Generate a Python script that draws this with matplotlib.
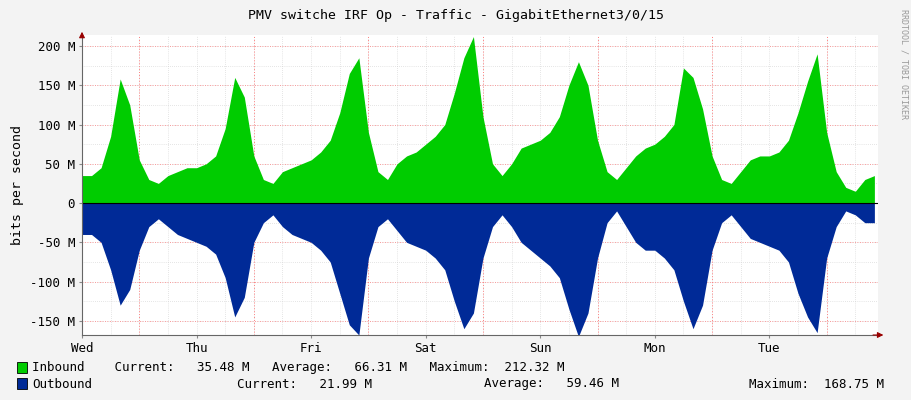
import numpy as np
import matplotlib.pyplot as plt

# 2-hourly samples (hours 0,2,...,22) per day, in M bits/s
days = ['Wed', 'Thu', 'Fri', 'Sat', 'Sun', 'Mon', 'Tue']
inbound = [
    35, 35, 45, 85, 158, 125, 55, 30, 25, 35, 40, 45,
    45, 50, 60, 95, 160, 135, 60, 30, 25, 40, 45, 50,
    55, 65, 80, 115, 165, 185, 90, 40, 30, 50, 60, 65,
    75, 85, 100, 140, 185, 212, 110, 50, 35, 50, 70, 75,
    80, 90, 110, 150, 180, 150, 80, 40, 30, 45, 60, 70,
    75, 85, 100, 172, 160, 120, 60, 30, 25, 40, 55, 60,
    60, 65, 80, 115, 155, 190, 90, 40, 20, 15, 30, 35,
]
outbound = [
    -40, -40, -50, -85, -130, -110, -60, -30, -20, -30, -40, -45,
    -50, -55, -65, -95, -145, -120, -50, -25, -15, -30, -40, -45,
    -50, -60, -75, -115, -155, -168, -70, -30, -20, -35, -50, -55,
    -60, -70, -85, -125, -160, -140, -70, -30, -15, -30, -50, -60,
    -70, -80, -95, -135, -170, -140, -70, -25, -10, -30, -50, -60,
    -60, -70, -85, -125, -160, -130, -60, -25, -15, -30, -45, -50,
    -55, -60, -75, -115, -145, -165, -70, -30, -10, -15, -25, -25,
]
t = np.arange(len(inbound)) * 2 / 24.0

plt.rcParams['font.family'] = 'DejaVu Sans Mono'
plt.rcParams['font.size'] = 8.5

fig = plt.figure(figsize=(9.11, 4.0), dpi=100, facecolor='#F3F3F3')
ax = fig.add_axes([0.090, 0.1625, 0.874, 0.75], facecolor='white')

ax.fill_between(t, inbound, 0, color='#00CC00', linewidth=0)
ax.fill_between(t, outbound, 0, color='#002A97', linewidth=0)
ax.axhline(0, color='black', linewidth=0.8)

ax.set_xlim(0, 6.95)
ax.set_ylim(-168, 214)
yt = np.arange(-150, 201, 50)
ax.set_yticks(yt)
ax.set_yticklabels(['0' if v == 0 else f'{v} M' for v in yt])
ax.set_xticks(range(7))
ax.set_xticklabels(days)
ax.tick_params(length=2, color='#888888', pad=3, labelsize=9)

for v in np.arange(-150, 214, 25):
    ax.axhline(v, color='#CCCCCC', linestyle=(0, (1, 2)), linewidth=0.5, zorder=0)
for v in yt:
    ax.axhline(v, color='#FF8080', linestyle=(0, (1, 2)), linewidth=0.6, zorder=0)
for d in np.arange(0, 7, 0.25):
    ax.axvline(d, color='#CCCCCC', linestyle=(0, (1, 2)), linewidth=0.5, zorder=0)
for d in np.arange(0.5, 7, 1):
    ax.axvline(d, color='#FF8080', linestyle=(0, (1, 2)), linewidth=0.7, zorder=0)

for s in ['top', 'right']:
    ax.spines[s].set_visible(False)
ax.spines['left'].set_color('#666666')
ax.spines['bottom'].set_color('#666666')
ax.annotate('', xy=(1.01, 0), xycoords='axes fraction', xytext=(0.99, 0),
            arrowprops=dict(arrowstyle='-|>', color='#990000', lw=0.8))
ax.annotate('', xy=(0, 1.02), xycoords='axes fraction', xytext=(0, 0.99),
            arrowprops=dict(arrowstyle='-|>', color='#990000', lw=0.8))

ax.set_ylabel('bits per second', fontsize=9.5)
fig.text(0.5, 0.962, 'PMV switche IRF Op - Traffic - GigabitEthernet3/0/15',
         ha='center', va='center', fontsize=9.5)
fig.text(0.992, 0.84, 'RRDTOOL / TOBI OETIKER', rotation=270, ha='center',
         va='center', fontsize=6, color='#999999')

fig.patches.append(plt.Rectangle((0.019, 0.067), 0.011, 0.027, transform=fig.transFigure,
                                 facecolor='#00CC00', edgecolor='black', lw=0.6))
fig.patches.append(plt.Rectangle((0.019, 0.027), 0.011, 0.027, transform=fig.transFigure,
                                 facecolor='#002A97', edgecolor='black', lw=0.6))
fig.text(0.035, 0.080, 'Inbound    Current:   35.48 M   Average:   66.31 M   Maximum:  212.32 M',
         va='center', fontsize=9)
fig.text(0.035, 0.040, 'Outbound', va='center', fontsize=9)
fig.text(0.260, 0.040, 'Current:   21.99 M', va='center', fontsize=9)
fig.text(0.531, 0.040, 'Average:   59.46 M', va='center', fontsize=9)
fig.text(0.822, 0.040, 'Maximum:  168.75 M', va='center', fontsize=9)

fig.savefig('out.png', dpi=100, facecolor=fig.get_facecolor())
